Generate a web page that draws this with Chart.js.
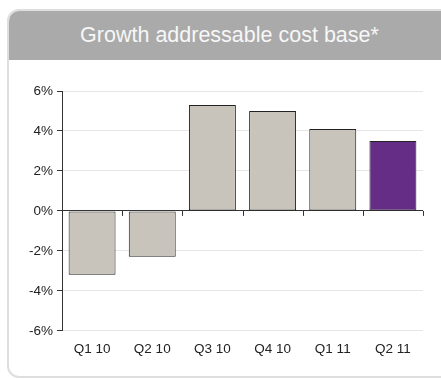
<!DOCTYPE html>
<html>
<head>
<meta charset="utf-8">
<script src="https://cdn.jsdelivr.net/npm/chart.js@4"></script>
<style>
  html, body { margin: 0; padding: 0; background: #fff; overflow: hidden; }
  body { width: 441px; height: 379px; position: relative; font-family: "Liberation Sans", Arial, sans-serif; }
  .panel {
    position: absolute; left: 7px; top: 9px; width: 460px; height: 369px;
    border: 2px solid #dedede; border-radius: 12px; box-sizing: border-box; overflow: hidden;
  }
  .banner {
    position: absolute; left: 0; top: 0; width: 441px; height: 49px;
    background: #aaaaaa; color: #f7f7f7; font-size: 21.5px;
    line-height: 49px; text-align: center;
  }
  #wrap { position: absolute; left: 0; top: 0; width: 441px; height: 379px; }
</style>
</head>
<body>
<div class="panel"><div class="banner">Growth addressable cost base*</div></div>
<div id="wrap"><canvas id="chart"></canvas></div>
<script>
// Данные
const categories = ['Q1 10', 'Q2 10', 'Q3 10', 'Q4 10', 'Q1 11', 'Q2 11'];
const growthValues = [-3.2, -2.3, 5.3, 5.0, 4.1, 3.5];
const barColors = ['#c8c4bc', '#c8c4bc', '#c8c4bc', '#c8c4bc', '#c8c4bc', '#662d87'];
const yTicks = [-6, -4, -2, 0, 2, 4, 6];

// Засечки на нулевой линии между категориями
const zeroTicks = {
  id: 'zeroTicks',
  afterDraw(chart) {
    const ctx = chart.ctx;
    const x = chart.scales.x, y = chart.scales.y;
    const y0 = y.getPixelForValue(0);
    const half = (x.getPixelForValue(1) - x.getPixelForValue(0)) / 2;
    ctx.save();
    ctx.strokeStyle = '#333';
    ctx.lineWidth = 1;
    for (let i = 0; i < categories.length; i++) {
      const px = Math.round(x.getPixelForValue(i) + half) + 0.5;
      ctx.beginPath();
      ctx.moveTo(px, y0);
      ctx.lineTo(px, y0 + 5);
      ctx.stroke();
    }
    ctx.restore();
  }
};

document.addEventListener('DOMContentLoaded', () => {
  const ctx = document.getElementById('chart').getContext('2d');
  new Chart(ctx, {
    type: 'bar',
    data: {
      labels: categories,
      datasets: [{
        data: growthValues,
        backgroundColor: barColors,
        borderColor: '#222',
        borderWidth: 1,
        borderSkipped: false,
        categoryPercentage: 1,
        barPercentage: 0.78
      }]
    },
    options: {
      responsive: true,
      maintainAspectRatio: false,
      animation: false,
      layout: { padding: { top: 91, right: 18, bottom: 20, left: 0 } },
      plugins: { legend: { display: false }, tooltip: { enabled: false } },
      scales: {
        x: {
          grid: { display: false },
          border: { display: false },
          ticks: { color: '#222', font: { family: 'Liberation Sans', size: 13.5 }, padding: 2 }
        },
        y: {
          min: -6, max: 6,
          afterBuildTicks(scale) { scale.ticks = yTicks.map(v => ({ value: v })); },
          afterFit(scale) { scale.width = 62; },
          border: { display: true, color: '#333', width: 1 },
          grid: {
            color: c => c.tick && c.tick.value === 0 ? '#333' : '#e6e6e6',
            tickColor: '#333',
            tickLength: 5
          },
          ticks: {
            color: '#222', font: { family: 'Liberation Sans', size: 13.5 }, padding: 4,
            callback: v => v + '%'
          }
        }
      }
    },
    plugins: [zeroTicks]
  });
});
</script>
</body>
</html>
